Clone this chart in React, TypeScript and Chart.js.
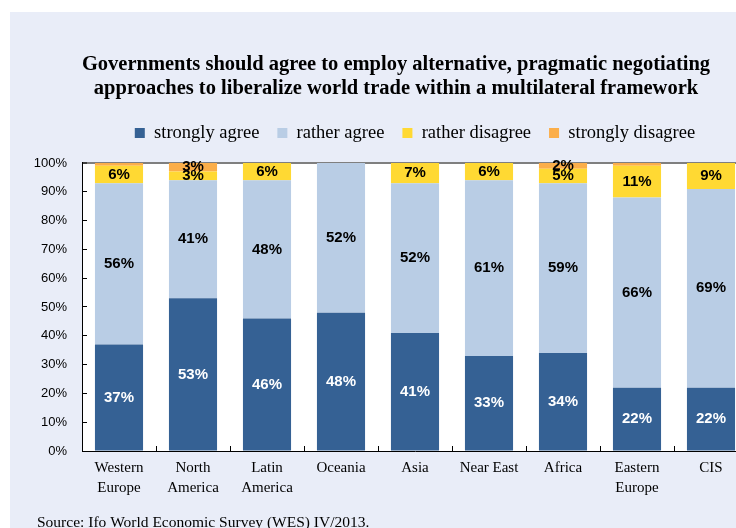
import React, { useEffect, useRef } from "react";
import { Chart, registerables } from "chart.js";

Chart.register(...registerables);

const titleLines = [
  "Governments should agree to employ alternative, pragmatic negotiating",
  "approaches to liberalize world trade within a multilateral framework",
];
const sourceText = "Source: Ifo World Economic Survey (WES) IV/2013.";
const categories = [
  ["Western", "Europe"],
  ["North", "America"],
  ["Latin", "America"],
  ["Oceania"],
  ["Asia"],
  ["Near East"],
  ["Africa"],
  ["Eastern", "Europe"],
  ["CIS"],
];
const seriesNames = ["strongly agree", "rather agree", "rather disagree", "strongly disagree"];
const stronglyAgree = [37, 53, 46, 48, 41, 33, 34, 22, 22];
const ratherAgree = [56, 41, 48, 52, 52, 61, 59, 66, 69];
const ratherDisagree = [6, 3, 6, 0, 7, 6, 5, 11, 9];
const stronglyDisagree = [1, 3, 0, 0, 0, 0, 2, 1, 0];
const seriesColors = ["#356194", "#B9CDE5", "#FFD933", "#FBAE4A"];
const yTicks = [0, 10, 20, 30, 40, 50, 60, 70, 80, 90, 100];

const SANS = "'Liberation Sans', Arial, sans-serif";
const SERIF = "'Liberation Serif', 'Times New Roman', serif";

const backgroundPlugin = {
  id: "panelBg",
  beforeDraw(chart: any) {
    const { ctx, width, height, chartArea } = chart;
    ctx.save();
    ctx.fillStyle = "#FFFFFF";
    ctx.fillRect(0, 0, width, height);
    ctx.fillStyle = "#E9EDF8";
    ctx.fillRect(10, 12, width - 10, height - 12);
    ctx.fillStyle = "#FFFFFF";
    ctx.fillRect(chartArea.left, chartArea.top, chartArea.right - chartArea.left, chartArea.bottom - chartArea.top);
    ctx.restore();
  },
  afterDraw(chart: any) {
    const { ctx } = chart;
    ctx.save();
    ctx.fillStyle = "#000000";
    ctx.font = `15.5px ${SERIF}`;
    ctx.textAlign = "left";
    ctx.textBaseline = "alphabetic";
    ctx.fillText(sourceText, 37, 527);
    ctx.restore();
  },
};

const shiftPlugin = {
  id: "shiftBlocks",
  afterLayout(chart: any) {
    const t = chart.titleBlock;
    if (t) {
      t.left += 17;
      t.right += 17;
    }
    const l = chart.legend;
    if (l) {
      l.left += 36;
      l.right += 36;
      l.top -= 10.75;
      l.bottom -= 10.75;
    }
  },
};

const labelPlugin = {
  id: "segLabels",
  afterDatasetsDraw(chart: any) {
    const { ctx } = chart;
    ctx.save();
    ctx.font = `bold 15px ${SANS}`;
    ctx.textAlign = "center";
    ctx.textBaseline = "middle";
    chart.data.datasets.forEach((ds: any, di: number) => {
      const meta = chart.getDatasetMeta(di);
      meta.data.forEach((el: any, i: number) => {
        const v = ds.data[i];
        if (v < 2) return;
        ctx.fillStyle = di === 0 ? "#FFFFFF" : "#000000";
        ctx.fillText(`${v}%`, el.x, (el.y + el.base) / 2);
      });
    });
    ctx.restore();
  },
};

export default function App() {
  const ref = useRef<HTMLCanvasElement | null>(null);
  useEffect(() => {
    if (!ref.current) return;
    const data = [stronglyAgree, ratherAgree, ratherDisagree, stronglyDisagree];
    const chart = new Chart(ref.current, {
      type: "bar",
      data: {
        labels: categories as any,
        datasets: seriesNames.map((name, i) => ({
          label: name,
          data: data[i],
          backgroundColor: seriesColors[i],
          borderWidth: 0,
          categoryPercentage: 1,
          barPercentage: 0.65,
        })),
      },
      options: {
        responsive: false,
        animation: false,
        devicePixelRatio: 1,
        layout: { padding: { left: 10, right: 12, top: 0, bottom: 32 } },
        plugins: {
          tooltip: { enabled: false },
          title: {
            display: true,
            text: titleLines,
            color: "#000000",
            font: { family: SERIF, size: 20.5, weight: "bold", lineHeight: 1.18 },
            padding: { top: 52.5, bottom: 15.6 },
          },
          legend: {
            display: true,
            position: "top",
            labels: {
              color: "#000000",
              boxWidth: 10,
              boxHeight: 10,
              padding: 18,
              font: { family: SERIF, size: 18.5 },
            },
          },
        },
        scales: {
          x: {
            stacked: true,
            grid: {
              display: true,
              drawOnChartArea: false,
              drawTicks: true,
              tickLength: -5,
              tickColor: "#000000",
              tickWidth: 1,
              offset: true,
            },
            border: { display: true, color: "#000000", width: 1 },
            ticks: {
              color: "#000000",
              font: { family: SERIF, size: 15, lineHeight: 1.33 },
              padding: 12,
              maxRotation: 0,
              autoSkip: false,
            },
            afterFit(scale: any) {
              scale.height = 45;
            },
          },
          y: {
            stacked: true,
            min: 0,
            max: 100,
            grid: {
              display: true,
              drawOnChartArea: true,
              drawTicks: true,
              tickLength: -5,
              tickColor: "#000000",
              tickWidth: 1,
              color: (c: any) => (c.tick && c.tick.value === 100 ? "#7F7F7F" : "rgba(0,0,0,0)"),
              lineWidth: (c: any) => (c.tick && c.tick.value === 100 ? 2 : 1),
            },
            border: { display: true, color: "#000000", width: 1 },
            afterBuildTicks(scale: any) {
              scale.ticks = yTicks.map((v) => ({ value: v }));
            },
            ticks: {
              color: "#000000",
              font: { family: SANS, size: 13 },
              padding: 20,
              callback: (v: any) => `${v}%`,
            },
            afterFit(scale: any) {
              scale.width = 72;
            },
          },
        },
      },
      plugins: [backgroundPlugin, shiftPlugin, labelPlugin],
    });
    return () => chart.destroy();
  }, []);
  return (
    <div style={{ position: "fixed", left: 0, top: 0, width: 736, height: 528, overflow: "hidden", background: "#fff" }}>
      <canvas ref={ref} width={760} height={528} style={{ display: "block", width: 760, height: 528 }} />
    </div>
  );
}
